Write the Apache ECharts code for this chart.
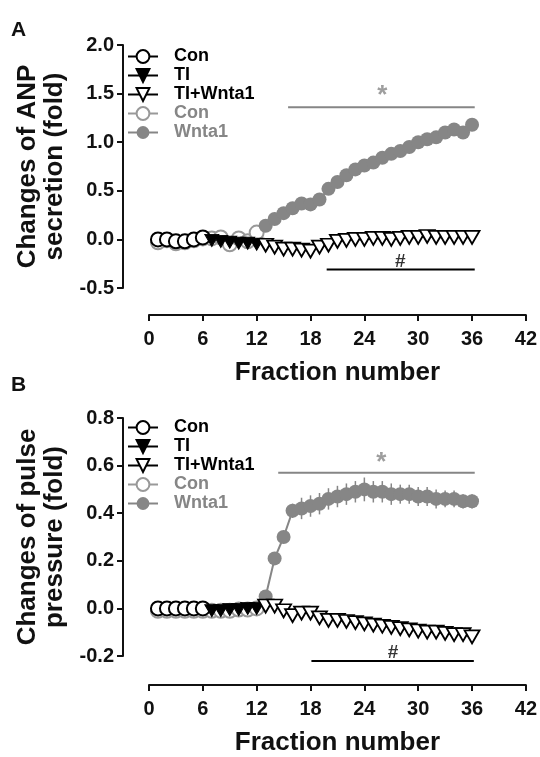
<!DOCTYPE html>
<html>
<head>
<meta charset="utf-8">
<script src="https://cdn.jsdelivr.net/npm/echarts@6/dist/echarts.min.js"></script>
<style>
  html, body { margin: 0; padding: 0; background: #fff; }
  #chart { width: 540px; height: 757px; }
</style>
</head>
<body>
<div id="chart"></div>
<script>
// fraction numbers for each group
const conX = [1, 2, 3, 4, 5, 6]
const tiX = [7, 8, 9, 10, 11, 12]
const conGrayX = [1, 2, 3, 4, 5, 6, 7, 8, 9, 10, 11, 12]
const treatX = [13, 14, 15, 16, 17, 18, 19, 20, 21, 22, 23, 24, 25, 26, 27, 28, 29, 30, 31, 32, 33, 34, 35, 36]

// panel A: ANP secretion (fold)
const anpCon = [0.0, 0.0, -0.02, -0.02, 0.0, 0.02]
const anpTI = [-0.01, -0.02, -0.03, -0.04, -0.04, -0.05]
const anpTIWnt = [-0.06, -0.08, -0.10, -0.10, -0.11, -0.12, -0.08, -0.06, -0.02, -0.01, 0.0, 0.0,
  0.01, 0.01, 0.0, 0.01, 0.02, 0.02, 0.03, 0.02, 0.02, 0.02, 0.02, 0.02]
const anpConGray = [-0.03, -0.01, -0.04, -0.03, -0.01, 0.01, 0.01, 0.02, -0.05, 0.01, -0.02, 0.07]
const anpWnt = [0.14, 0.21, 0.27, 0.32, 0.37, 0.36, 0.41, 0.52, 0.59, 0.66, 0.72, 0.76,
  0.79, 0.84, 0.88, 0.91, 0.95, 1.00, 1.03, 1.05, 1.10, 1.13, 1.10, 1.18]

// panel B: pulse pressure (fold)
const ppCon = [0.0, 0.0, 0.0, 0.0, 0.0, 0.0]
const ppTI = [-0.01, -0.01, -0.005, -0.005, 0.0, 0.0]
const ppTIWnt = [0.01, 0.01, -0.01, -0.03, -0.02, -0.02, -0.04, -0.05, -0.05, -0.055, -0.06, -0.065,
  -0.07, -0.075, -0.08, -0.085, -0.09, -0.095, -0.10, -0.10, -0.105, -0.11, -0.11, -0.12]
const ppConGray = [-0.01, -0.01, -0.01, -0.01, -0.01, -0.01, -0.01, -0.01, -0.01, -0.005, -0.005, 0.0]
const ppWnt = [0.05, 0.21, 0.30, 0.41, 0.42, 0.43, 0.44, 0.46, 0.47, 0.48, 0.49, 0.50,
  0.49, 0.49, 0.48, 0.48, 0.48, 0.47, 0.47, 0.46, 0.46, 0.46, 0.45, 0.45]
const ppWntErr = [0.01, 0.015, 0.02, 0.03, 0.045, 0.045, 0.045, 0.045, 0.045, 0.045, 0.045, 0.05,
  0.045, 0.045, 0.045, 0.04, 0.04, 0.04, 0.04, 0.04, 0.035, 0.035, 0.03, 0.03]

// significance bars: [xStart, xEnd, y, markX, markY]
const sigA = { star: [15.5, 36.3, 1.36, 26.0, 1.48], hash: [19.8, 36.3, -0.31, 28.0, -0.225] }
const sigB = { star: [14.4, 36.3, 0.57, 25.9, 0.61], hash: [18.1, 36.2, -0.221, 27.2, -0.186] }

const legendNames = ['Con', 'TI', 'TI+Wnta1', 'Con (grey)', 'Wnta1']

const FONT = 'Arial, "Liberation Sans", sans-serif'
const GREY = '#868686'
const DOWN_TRI = 'path://M0,0 L20,0 L10,17 Z'

const zip = (xs, ys) => xs.map((x, i) => [x, ys[i]])

const xAxisBase = (idx, offset) => ({
  gridIndex: idx, type: 'value', min: 0, max: 42, interval: 6, offset,
  name: 'Fraction number', nameLocation: 'middle', nameGap: 45,
  nameTextStyle: { fontSize: 26, fontWeight: 'bold', color: '#111', fontFamily: FONT },
  axisLine: { show: true, onZero: false, lineStyle: { color: '#111', width: 2 } },
  axisTick: { show: true, length: 6, lineStyle: { color: '#111', width: 2 } },
  axisLabel: { margin: 14, fontSize: 20, fontWeight: 'bold', color: '#111', fontFamily: FONT },
  splitLine: { show: false }
})

const yAxisBase = (idx, min, max, interval, name) => ({
  gridIndex: idx, type: 'value', min, max, interval, offset: 26,
  name, nameLocation: 'middle', nameGap: 53, nameRotate: 90,
  nameTextStyle: { fontSize: 26, fontWeight: 'bold', color: '#111', fontFamily: FONT, lineHeight: 27 },
  axisLine: { show: true, onZero: false, lineStyle: { color: '#111', width: 2 } },
  axisTick: { show: true, length: 6, lineStyle: { color: '#111', width: 2 } },
  axisLabel: { margin: 9, fontSize: 20, fontWeight: 'bold', color: '#111', fontFamily: FONT,
    formatter: v => v.toFixed(1) },
  splitLine: { show: false }
})

const groupSeries = (idx, d) => [
  {
    name: 'Con (grey)', type: 'line', xAxisIndex: idx, yAxisIndex: idx, data: zip(conGrayX, d.conGray),
    symbol: 'circle', symbolSize: 14,
    itemStyle: { color: '#fff', borderColor: '#999', borderWidth: 2 },
    lineStyle: { color: '#999', width: 1.5 }
  },
  {
    name: 'Wnta1', type: 'line', xAxisIndex: idx, yAxisIndex: idx, data: zip(treatX, d.wnt),
    symbol: 'circle', symbolSize: 14,
    itemStyle: { color: GREY, borderColor: GREY, borderWidth: 0 },
    lineStyle: { color: GREY, width: 2 }
  },
  {
    name: 'Con', type: 'line', xAxisIndex: idx, yAxisIndex: idx, data: zip(conX, d.con),
    symbol: 'circle', symbolSize: 14,
    itemStyle: { color: '#fff', borderColor: '#000', borderWidth: 2 },
    lineStyle: { color: '#000', width: 1.5 }
  },
  {
    name: 'TI', type: 'line', xAxisIndex: idx, yAxisIndex: idx, data: zip(tiX, d.ti),
    symbol: DOWN_TRI, symbolSize: [14, 12],
    itemStyle: { color: '#000', borderColor: '#000', borderWidth: 1 },
    lineStyle: { color: '#000', width: 1.5 }
  },
  {
    name: 'TI+Wnta1', type: 'line', xAxisIndex: idx, yAxisIndex: idx, data: zip(treatX, d.tiWnt),
    symbol: DOWN_TRI, symbolSize: [15, 13],
    itemStyle: { color: '#fff', borderColor: '#000', borderWidth: 1.8 },
    lineStyle: { color: '#000', width: 1.5 }
  }
]

const sigSeries = (idx, s) => {
  const out = []
  ;[['star', '*', GREY], ['hash', '#', '#000']].forEach(([k, txt, col]) => {
    const [x0, x1, y, mx, my] = s[k]
    out.push({
      type: 'line', xAxisIndex: idx, yAxisIndex: idx, clip: false, silent: true,
      data: [[x0, y], [x1, y]], symbol: 'none',
      lineStyle: { color: col, width: 2 }
    })
    out.push({
      type: 'scatter', xAxisIndex: idx, yAxisIndex: idx, clip: false, silent: true,
      data: [[mx, my]], symbolSize: 0,
      label: { show: true, position: 'inside', formatter: txt, color: col,
        fontSize: txt === '*' ? 26 : 19, fontWeight: 'bold', fontFamily: FONT }
    })
  })
  return out
}

const errorBars = {
  type: 'custom', xAxisIndex: 1, yAxisIndex: 1, silent: true, z: 1,
  data: treatX.map((x, i) => [x, ppWnt[i], ppWntErr[i]]),
  renderItem: (params, api) => {
    const x = api.value(0), y = api.value(1), e = api.value(2)
    const top = api.coord([x, y + e])
    const bot = api.coord([x, y - e])
    return {
      type: 'line',
      shape: { x1: top[0], y1: top[1], x2: bot[0], y2: bot[1] },
      style: { stroke: GREY, lineWidth: 1.5 }
    }
  }
}

const legendFor = (top) => ({
  orient: 'vertical', left: 122, top, itemWidth: 30, itemHeight: 16, itemGap: 0,
  selectedMode: false,
  textStyle: { fontSize: 18, fontWeight: 'bold', fontFamily: FONT, lineHeight: 19, padding: [0, 0, 0, 11] },
  formatter: n => n === 'Con (grey)' ? 'Con' : n,
  data: legendNames.map(n => ({
    name: n,
    textStyle: { color: (n === 'Con (grey)' || n === 'Wnta1') ? GREY : '#000' }
  }))
})

const chart = echarts.init(document.getElementById('chart'), null, { renderer: 'canvas' })
chart.setOption({
  animation: false,
  backgroundColor: '#fff',
  textStyle: { fontFamily: FONT },
  graphic: [
    { type: 'text', left: 11, top: 20, style: { text: 'A', fontSize: 21, fontWeight: 'bold', fill: '#111', fontFamily: FONT } },
    { type: 'text', left: 11, top: 375, style: { text: 'B', fontSize: 21, fontWeight: 'bold', fill: '#111', fontFamily: FONT } }
  ],
  grid: [
    { left: 149, right: 14, top: 45, height: 243 },
    { left: 149, right: 14, top: 418, height: 242 }
  ],
  legend: [legendFor(42), legendFor(413)],
  xAxis: [xAxisBase(0, 27), xAxisBase(1, 29)],
  yAxis: [
    yAxisBase(0, -0.5, 2.0, 0.5, 'Changes of ANP\nsecretion (fold)'),
    yAxisBase(1, -0.2, 0.8, 0.2, 'Changes of pulse\npressure (fold)')
  ],
  series: [
    ...groupSeries(0, { con: anpCon, ti: anpTI, tiWnt: anpTIWnt, conGray: anpConGray, wnt: anpWnt }),
    ...sigSeries(0, sigA),
    errorBars,
    ...groupSeries(1, { con: ppCon, ti: ppTI, tiWnt: ppTIWnt, conGray: ppConGray, wnt: ppWnt }),
    ...sigSeries(1, sigB)
  ]
})
</script>
</body>
</html>
